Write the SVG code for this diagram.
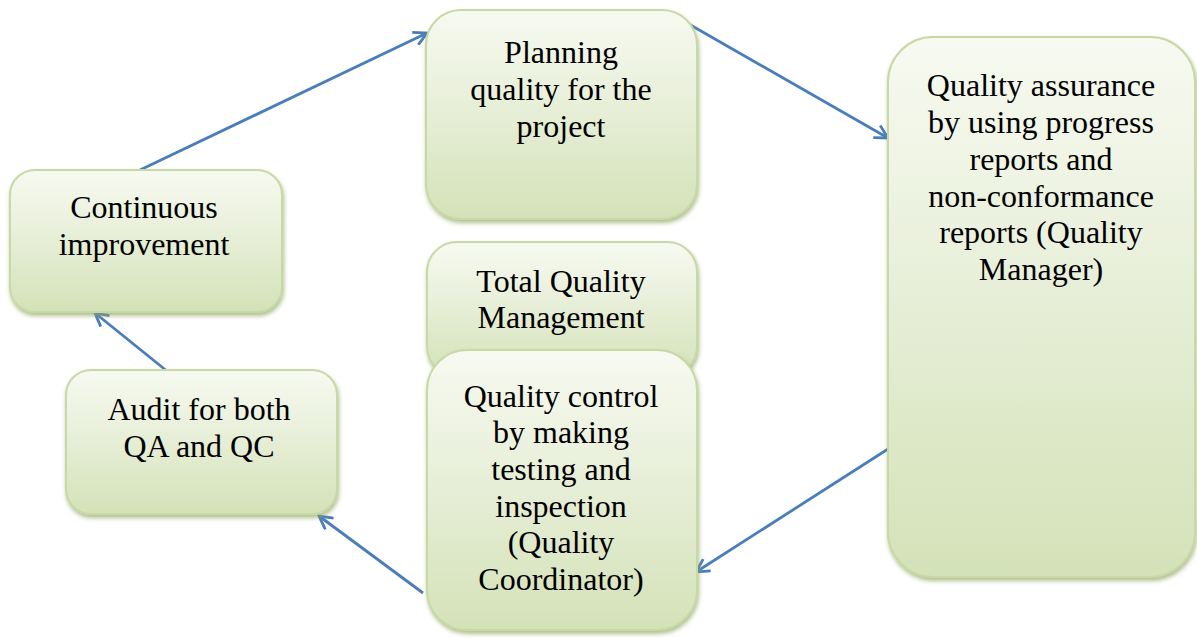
<svg xmlns="http://www.w3.org/2000/svg" width="1197" height="639" viewBox="0 0 1197 639">
<defs>
<linearGradient id="g" x1="0" y1="0" x2="0" y2="1">
<stop offset="0" stop-color="#f7faf1"/>
<stop offset="0.45" stop-color="#e8efd9"/>
<stop offset="1" stop-color="#d4e2b8"/>
</linearGradient>
<filter id="sh" x="-10%" y="-10%" width="125%" height="125%">
<feDropShadow dx="1" dy="3" stdDeviation="2" flood-color="#8fa660" flood-opacity="0.7"/>
</filter>
<marker id="ah" viewBox="0 0 16 16" refX="14" refY="8" markerWidth="16" markerHeight="16" markerUnits="userSpaceOnUse" orient="auto">
<path d="M1,1 L14,8 L1,15" fill="none" stroke="#4a7ebb" stroke-width="2.8"/>
</marker>
</defs>
<style>
.box{fill:url(#g);stroke:#c9d9a6;stroke-width:2;filter:url(#sh)}
.c{fill:none;stroke:#4a7ebb;stroke-width:2.8;marker-end:url(#ah)}
.t{font-family:'Liberation Serif','Times New Roman','DejaVu Serif',serif;font-size:32px;fill:#000;text-anchor:middle}
</style>
<rect width="1197" height="639" fill="#fff"/>
<g id="connectors">
<line class="c" x1="140" y1="170" x2="427" y2="33"/>
<line class="c" x1="687" y1="23" x2="888" y2="138"/>
<line class="c" x1="888" y1="449" x2="696" y2="572"/>
<line class="c" x1="423" y1="593" x2="319" y2="516"/>
<line class="c" x1="178" y1="380" x2="95" y2="313"/>
</g>
<g class="t">
<g id="planning">
<rect class="box" x="426" y="10" width="271" height="209" rx="35"/>
<text x="561" y="63">Planning</text>
<text x="561" y="100">quality for the</text>
<text x="561" y="137">project</text>
</g>
<g id="qa">
<rect class="box" x="888" y="37" width="307" height="540" rx="45"/>
<text x="1041" y="96">Quality assurance</text>
<text x="1041" y="133">by using progress</text>
<text x="1041" y="170">reports and</text>
<text x="1041" y="207">non-conformance</text>
<text x="1041" y="243">reports (Quality</text>
<text x="1041" y="280">Manager)</text>
</g>
<g id="continuous">
<rect class="box" x="10" y="170" width="272" height="142" rx="25"/>
<text x="144" y="218">Continuous</text>
<text x="144" y="255">improvement</text>
</g>
<g id="audit">
<rect class="box" x="66" y="370" width="271" height="144" rx="25"/>
<text x="199" y="420">Audit for both</text>
<text x="199" y="457">QA and QC</text>
</g>
<g id="tqm">
<rect class="box" x="427" y="242" width="270" height="134" rx="30"/>
<text x="561" y="292">Total Quality</text>
<text x="561" y="328">Management</text>
</g>
<g id="qc">
<rect class="box" x="427" y="350" width="270" height="280" rx="40"/>
<text x="561" y="407">Quality control</text>
<text x="561" y="443">by making</text>
<text x="561" y="480">testing and</text>
<text x="561" y="517">inspection</text>
<text x="561" y="553">(Quality</text>
<text x="561" y="590">Coordinator)</text>
</g>
</g>
</svg>
